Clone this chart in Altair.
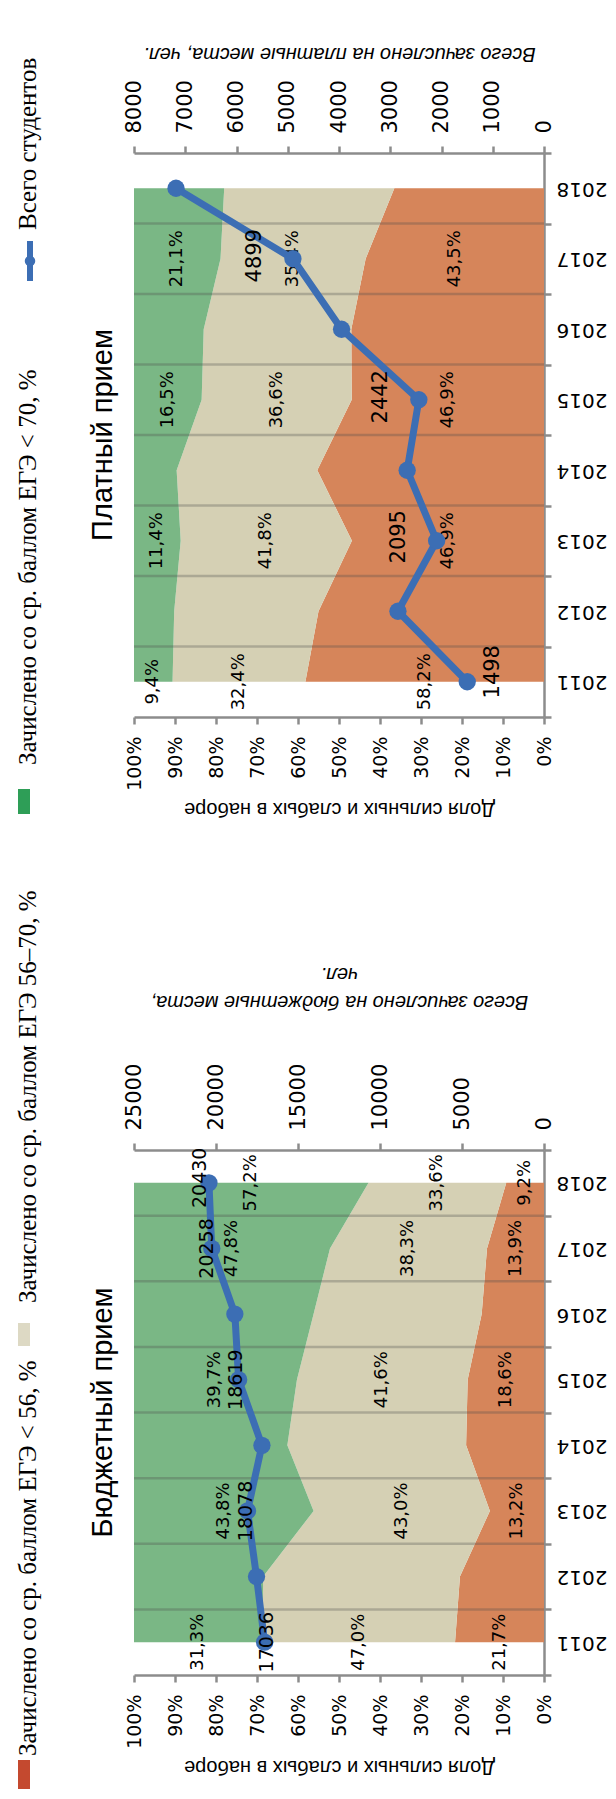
import altair as alt
import pandas as pd

# ---------------- data ----------------
YEARS = [2011, 2012, 2013, 2014, 2015, 2016, 2017, 2018]

SERIES = [
    "Зачислено со ср. баллом ЕГЭ  < 56, %",
    "Зачислено со ср. баллом ЕГЭ 56–70, %",
    "Зачислено со ср. баллом ЕГЭ  < 70, %",
]
LINE_SERIES = "Всего студентов"

PAID_TITLE = "Платный прием"
PAID_LOW = [58.2, 55.0, 46.9, 55.3, 46.9, 47.0, 43.5, 36.5]
PAID_MID = [32.4, 35.2, 41.8, 34.3, 36.6, 36.0, 35.4, 41.5]
PAID_HIGH = [9.4, 9.8, 11.4, 10.4, 16.5, 17.0, 21.1, 22.0]
PAID_TOTAL = [1498, 2850, 2095, 2670, 2442, 3950, 4899, 7180]
PAID_PCT_LABEL_YEARS = [2011, 2013, 2015, 2017]
PAID_COUNT_MAX = 8000
PAID_COUNT_STEP = 1000
PAID_COUNT_TITLE = "Всего зачислено на платные места, чел."

BUDGET_TITLE = "Бюджетный прием"
BUDGET_LOW = [21.7, 20.5, 13.2, 19.0, 18.6, 15.2, 13.9, 9.2]
BUDGET_MID = [47.0, 48.0, 43.0, 43.6, 41.6, 41.0, 38.3, 33.6]
BUDGET_HIGH = [31.3, 31.5, 43.8, 37.4, 39.7, 43.8, 47.8, 57.2]
BUDGET_TOTAL = [17036, 17530, 18078, 17200, 18619, 18850, 20258, 20430]
BUDGET_PCT_LABEL_YEARS = [2011, 2013, 2015, 2017, 2018]
BUDGET_COUNT_MAX = 25000
BUDGET_COUNT_STEP = 5000
BUDGET_COUNT_TITLE = ["Всего зачислено на бюджетные места,", "чел."]

PCT_AXIS_TITLE = "Доля сильных и слабых в наборе"

# ---------------- layout / style ----------------
W = 410
H_TOP = 564
H_BOT = 525
GAP = 433

AREA_COLORS = ["#D6855A", "#D5D0B4", "#7AB785"]
SWATCH_COLORS = ["#C4492F", "#DDD9C4", "#2E9E57"]
BLUE = "#3C6EB4"
AXIS_GREY = "#8C8C8C"
NUM_FONT = "DejaVu Sans"
TXT_FONT = "Liberation Sans"
LEG_FONT = "Liberation Serif"
LEG_SIZE = 25

# count label offsets per year (dx, dy in rotated text frame)
PAID_COUNT_LABEL_OFFSETS = {2011: (10, 26), 2013: (4, -38), 2015: (3, -38), 2017: (3, -38)}
BUDGET_COUNT_LABEL_OFFSETS = {2011: (0, 2), 2013: (0, -2), 2015: (0, -3), 2017: (0, -5), 2018: (5, -9)}

# legend layout (pixels relative to the top plot origin)
LEG_TEXT_X = -106
LEG_TEXT_START = [1603, 1150, 612, 77]
LEG_SWATCH_X = (-116, -104)
LEG_SWATCH_Y = [(1607, 1636), (1170, 1193), (636, 661)]
LEG_MARKER_X = -104
LEG_MARKER_Y = (88, 128)
ANCHOR = (-126, -145)


def stack_frame(low, mid, high, label_years):
    rows = []
    for i, yr in enumerate(YEARS):
        vals = [low[i], mid[i], high[i]]
        tot = sum(vals)
        acc = 0.0
        for name, v in zip(SERIES, vals):
            lo = acc / tot
            acc += v
            hi = acc / tot
            rows.append({
                "year": yr, "series": name, "lo": lo, "hi": hi,
                "center": (lo + hi) / 2,
                "label": f"{v:.1f}".replace(".", ",") + "%",
                "show": yr in label_years,
            })
    return pd.DataFrame(rows)


Y_SCALE = alt.Scale(domain=[YEARS[0] - 0.5, YEARS[-1] + 0.5], nice=False, zero=False)
TICK_VALS = sorted(YEARS + [y + 0.5 for y in YEARS] + [YEARS[0] - 0.5])
Y_AXIS = alt.Axis(
    orient="right", values=TICK_VALS,
    labelExpr="datum.value % 1 == 0 ? toString(datum.value) : ''",
    tickOpacity={"condition": {"test": "datum.value % 1 == 0", "value": 0}, "value": 1},
    labelAngle=180, labelAlign="right", labelBaseline="middle", labelPadding=5,
    labelFont=NUM_FONT, labelFontSize=20, labelColor="black",
    labelOverlap=False, labelFlush=False, grid=False,
    domainColor=AXIS_GREY, domainWidth=2.5, tickColor=AXIS_GREY, tickWidth=2.5, tickSize=7,
    title=None,
)

PCT_SCALE = alt.Scale(domain=[0, 1], reverse=True, nice=False, zero=False)
PCT_AXIS = alt.Axis(
    orient="bottom", values=[i / 10 for i in range(11)], format=".0%",
    labelAngle=270, labelAlign="right", labelBaseline="middle", labelPadding=12,
    labelFont=NUM_FONT, labelFontSize=19, labelColor="black",
    labelFlush=False, labelOverlap=False, grid=False,
    domainColor=AXIS_GREY, domainWidth=2.5, tickColor=AXIS_GREY, tickWidth=2.5, tickSize=7,
    title=PCT_AXIS_TITLE, titleAngle=180, titleBaseline="bottom",
    titleFont=TXT_FONT, titleFontSize=20, titleFontWeight="normal", titleColor="black",
    titlePadding=8,
)


def one_row():
    return pd.DataFrame({"k": [0]})


def panel(low, mid, high, total, pct_years, count_max, count_step, count_title,
          title, height, count_offsets, count_font, title_pad, extra=()):
    df = stack_frame(low, mid, high, pct_years)
    tdf = pd.DataFrame({"year": YEARS, "total": total})
    bdf = pd.DataFrame({"b": [y + 0.5 for y in YEARS[:-1]]})

    y_enc = alt.Y("year:Q", scale=Y_SCALE, axis=Y_AXIS)

    area = alt.Chart(df).mark_area(orient="horizontal", opacity=1).encode(
        y=y_enc,
        x=alt.X("lo:Q", scale=PCT_SCALE, axis=PCT_AXIS, stack=None),
        x2="hi:Q",
        color=alt.Color("series:N", scale=alt.Scale(domain=SERIES, range=AREA_COLORS), legend=None),
    )
    grid = alt.Chart(bdf).mark_rule(color="#4d4d4d", opacity=0.3, strokeWidth=2.5).encode(
        y=alt.Y("b:Q", scale=Y_SCALE, axis=Y_AXIS)
    )
    pct_lbl = alt.Chart(df[df["show"]]).mark_text(
        angle=270, align="center", baseline="middle", font=NUM_FONT, fontSize=18, color="black"
    ).encode(
        y=y_enc,
        x=alt.X("center:Q", scale=PCT_SCALE, axis=PCT_AXIS),
        text="label:N",
    )
    title_txt = alt.Chart(pd.DataFrame({"t": [title]})).mark_text(
        angle=270, align="center", baseline="middle", font=TXT_FONT, fontSize=29, color="black"
    ).encode(x=alt.value(-31), y=alt.value(height / 2), text="t:N")

    pct_group = alt.layer(area, grid, pct_lbl, title_txt, *extra)

    count_scale = alt.Scale(domain=[0, count_max], reverse=True, nice=False, zero=True)
    count_axis = alt.Axis(
        orient="top", values=list(range(0, count_max + 1, count_step)), format="d",
        labelAngle=270, labelAlign="left", labelBaseline="middle", labelPadding=13,
        labelFont=NUM_FONT, labelFontSize=21, labelColor="black",
        labelFlush=False, labelOverlap=False, grid=False,
        domainColor=AXIS_GREY, domainWidth=2.5, tickColor=AXIS_GREY, tickWidth=2.5, tickSize=7,
        title=count_title, titleAngle=180, titleBaseline="top", titleFontStyle="italic",
        titleFont=TXT_FONT, titleFontSize=20, titleFontWeight="normal", titleColor="black",
        titlePadding=title_pad, titleLineHeight=28,
    )
    x_cnt = alt.X("total:Q", scale=count_scale, axis=count_axis)

    line = alt.Chart(tdf).mark_line(
        color=BLUE, strokeWidth=7, strokeCap="round", strokeJoin="round"
    ).encode(y=y_enc, x=x_cnt, order=alt.Order("year:Q"))
    pts = alt.Chart(tdf).mark_circle(size=300, color=BLUE, opacity=1).encode(y=y_enc, x=x_cnt)

    lbls = []
    for yr, (dx, dy) in count_offsets.items():
        lbls.append(
            alt.Chart(tdf[tdf["year"] == yr]).mark_text(
                angle=270, align="center", baseline="middle", dx=dx, dy=dy,
                font=NUM_FONT, fontSize=count_font, color="black"
            ).encode(y=y_enc, x=x_cnt, text=alt.Text("total:Q", format="d"))
        )
    count_group = alt.layer(line, pts, *lbls)

    return alt.layer(pct_group, count_group).resolve_scale(x="independent").properties(
        width=W, height=height
    )


# ---------------- legend (drawn in the top panel's frame) ----------------
legend_layers = []
legend_layers.append(
    alt.Chart(one_row()).mark_rect(opacity=0).encode(
        x=alt.value(ANCHOR[0]), x2=alt.value(ANCHOR[0] + 1),
        y=alt.value(ANCHOR[1]), y2=alt.value(ANCHOR[1] + 1),
    )
)
for label, start in zip(SERIES + [LINE_SERIES], LEG_TEXT_START):
    legend_layers.append(
        alt.Chart(pd.DataFrame({"t": [label]})).mark_text(
            angle=270, align="left", baseline="middle", font=LEG_FONT, fontSize=LEG_SIZE, color="black"
        ).encode(x=alt.value(LEG_TEXT_X), y=alt.value(start), text="t:N")
    )
for col, (y0, y1) in zip(SWATCH_COLORS, LEG_SWATCH_Y):
    legend_layers.append(
        alt.Chart(one_row()).mark_rect(color=col).encode(
            x=alt.value(LEG_SWATCH_X[0]), x2=alt.value(LEG_SWATCH_X[1]),
            y=alt.value(y0), y2=alt.value(y1),
        )
    )
legend_layers.append(
    alt.Chart(one_row()).mark_rule(color=BLUE, strokeWidth=6).encode(
        x=alt.value(LEG_MARKER_X), y=alt.value(LEG_MARKER_Y[0]), y2=alt.value(LEG_MARKER_Y[1])
    )
)
legend_layers.append(
    alt.Chart(one_row()).mark_circle(color=BLUE, size=110, opacity=1).encode(
        x=alt.value(LEG_MARKER_X), y=alt.value((LEG_MARKER_Y[0] + LEG_MARKER_Y[1]) / 2)
    )
)

top = panel(PAID_LOW, PAID_MID, PAID_HIGH, PAID_TOTAL, PAID_PCT_LABEL_YEARS,
            PAID_COUNT_MAX, PAID_COUNT_STEP, PAID_COUNT_TITLE, PAID_TITLE, H_TOP,
            PAID_COUNT_LABEL_OFFSETS, 21, 16, extra=legend_layers)
bottom = panel(BUDGET_LOW, BUDGET_MID, BUDGET_HIGH, BUDGET_TOTAL, BUDGET_PCT_LABEL_YEARS,
               BUDGET_COUNT_MAX, BUDGET_COUNT_STEP, BUDGET_COUNT_TITLE, BUDGET_TITLE, H_BOT,
               BUDGET_COUNT_LABEL_OFFSETS, 19, 24)

chart = alt.vconcat(top, bottom, spacing=GAP, bounds="flush").properties(
    padding=0
).configure_view(stroke=None)

chart.save("out.html", embed_options={"renderer": "svg", "actions": False})
